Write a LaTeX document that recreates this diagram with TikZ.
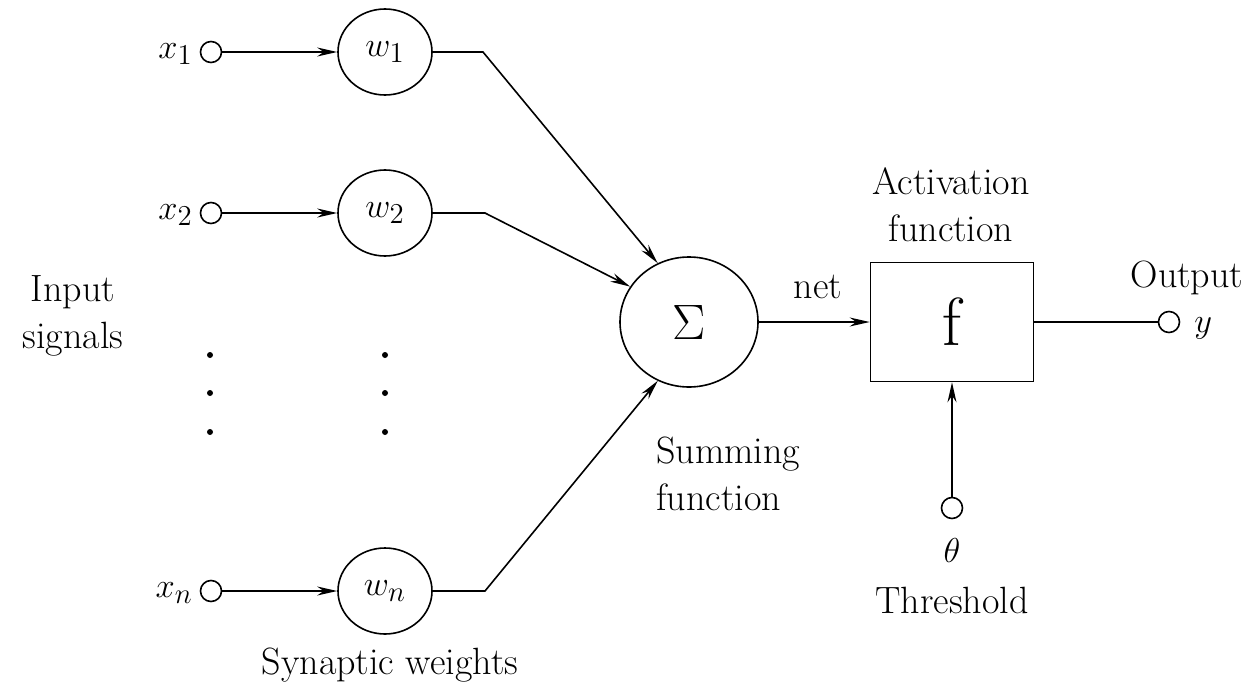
\documentclass[tikz,border=0pt]{standalone}
\usetikzlibrary{shapes.geometric,arrows.meta}
\begin{document}
\begin{tikzpicture}[x=0.5pt,y=-0.5pt,
  every node/.style={font=\fontsize{19}{23.5}\selectfont},
  wnode/.style={draw,ellipse,line width=0.8pt,minimum width=47pt,minimum height=43pt,inner sep=0pt},
  port/.style={draw,circle,line width=0.8pt,minimum size=10.5pt,inner sep=0pt},
  dotnode/.style={fill,circle,minimum size=3pt,inner sep=0pt},
  conn/.style={line width=0.8pt},
  arr/.style={conn,-{Stealth[length=10pt,width=4.5pt]}},
  lbl/.style={align=center,inner sep=0pt}]
\useasboundingbox (0,0) rectangle (1259,691);
% inputs
\node[port] (x1) at (211,52) {};
\node[port] (x2) at (211,213) {};
\node[port] (xn) at (211,591) {};
\node[anchor=east,inner sep=0pt] (lx1) at (193,54) {$x_1$};
\node[anchor=east,inner sep=0pt] (lx2) at (193,215) {$x_2$};
\node[anchor=east,inner sep=0pt] (lxn) at (193,593) {$x_n$};
% weights
\node[wnode] (w1) at (385,52) {$w_1$};
\node[wnode] (w2) at (385,213) {$w_2$};
\node[wnode] (wn) at (385,591) {$w_n$};
% dots
\node[dotnode] (d11) at (210,355) {};
\node[dotnode] (d12) at (210,393) {};
\node[dotnode] (d13) at (210,432) {};
\node[dotnode] (d21) at (385,355) {};
\node[dotnode] (d22) at (385,393) {};
\node[dotnode] (d23) at (385,432) {};
% summing
\node[draw,ellipse,line width=0.8pt,minimum width=69pt,minimum height=65pt,inner sep=0pt,font=\fontsize{28}{32}\selectfont] (sum) at (689,322) {$\Sigma$};
% activation box
\node[draw,rectangle,line width=0.8pt,minimum width=81.5pt,minimum height=59.5pt,inner sep=0pt,font=\fontsize{34}{38}\selectfont] (f) at (952,322) {f};
% output
\node[port] (out) at (1169,322) {};
\node[anchor=west,inner sep=0pt] (ly) at (1194,328) {$y$};
% threshold
\node[port] (th) at (952,508) {};
\node[inner sep=0pt] (theta) at (952,550) {$\theta$};
% labels
\node[lbl] (inp) at (73,316) {Input\\signals};
\node[lbl] (syn) at (390,665) {Synaptic weights};
\node[lbl] (net) at (818,287) {net};
\node[lbl] (act) at (951,205) {Activation\\function};
\node[lbl] (outl) at (1187,278) {Output};
\node[lbl] (thr) at (952,600) {Threshold};
\node[lbl,align=left,anchor=west] (sumf) at (656,474) {Summing\\function};
% connectors
\coordinate (b1) at (483,52);
\coordinate (b2) at (485,213);
\coordinate (bn) at (485,591);
\draw[arr] (x1) -- (w1);
\draw[arr] (x2) -- (w2);
\draw[arr] (xn) -- (wn);
\draw[arr] (w1.east) -- (b1) -- (sum.118);
\draw[arr] (w2.east) -- (b2) -- (sum.149);
\draw[arr] (wn.east) -- (bn) -- (sum.242);
\draw[arr] (sum) -- (f);
\draw[conn] (f) -- (out);
\draw[arr] (th) -- (f);
\end{tikzpicture}
\end{document}
